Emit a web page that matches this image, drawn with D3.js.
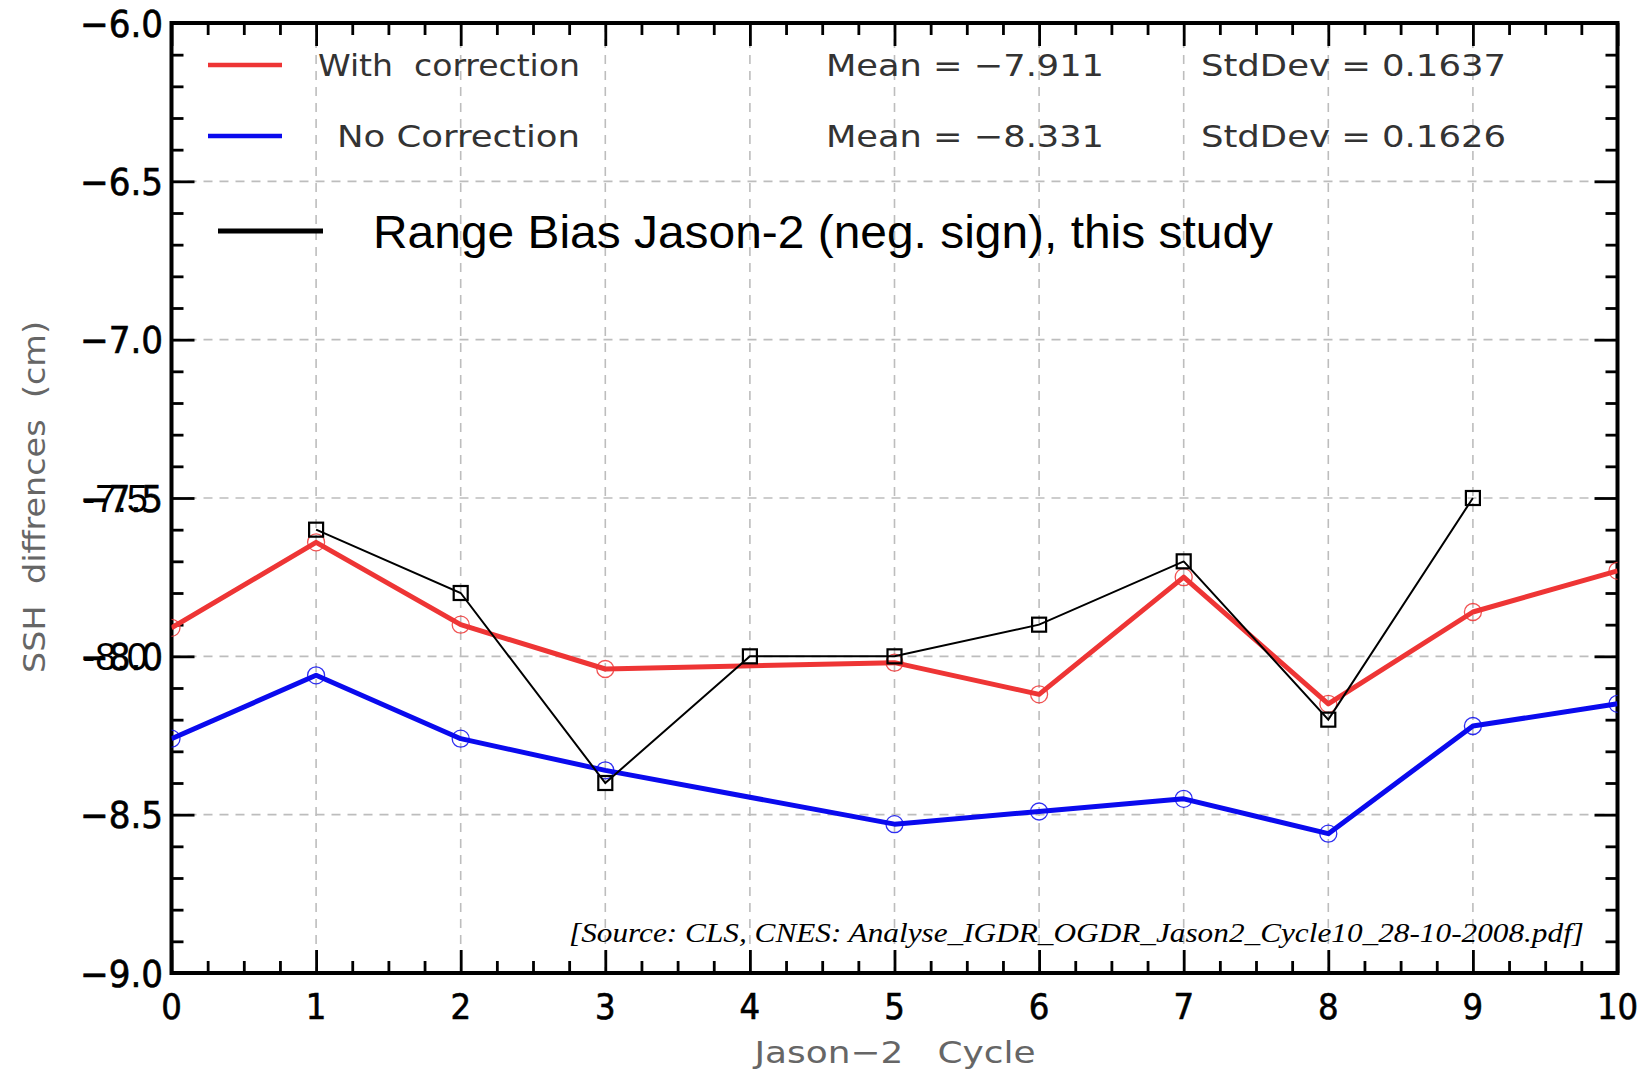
<!DOCTYPE html>
<html>
<head>
<meta charset="utf-8">
<script src="https://cdn.jsdelivr.net/npm/d3@7"></script>
<style>
  html, body { margin: 0; padding: 0; background: #fff; }
  svg { display: block; }
</style>
</head>
<body>
<svg id="chart" width="1649" height="1071"></svg>
<script>
// SSH differences per Jason-2 cycle (cm)
const cycles = [0, 1, 2, 3, 5, 6, 7, 8, 9, 10];
const withCorrection = [-7.91, -7.64, -7.90, -8.04, -8.02, -8.12, -7.75, -8.15, -7.86, -7.73];
const noCorrection = [-8.26, -8.06, -8.26, -8.36, -8.53, -8.49, -8.45, -8.56, -8.22, -8.15];

// Range bias Jason-2 (negative sign)
const biasCycles = [1, 2, 3, 4, 5, 6, 7, 8, 9];
const rangeBias = [-7.6, -7.8, -8.4, -8.0, -8.0, -7.9, -7.7, -8.2, -7.5];

// Axis ticks
const xTicks = [0, 1, 2, 3, 4, 5, 6, 7, 8, 9, 10];
const yTicks = [-9.0, -8.5, -8.0, -7.5, -7.0, -6.5, -6.0];
const yOverlayTicks = [-7.5, -8.0];

// Legend and annotation texts
const legendLabels = ["With  correction", "No Correction"];
const meanLabels = ["Mean = \u22127.911", "Mean = \u22128.331"];
const stdLabels = ["StdDev = 0.1637", "StdDev = 0.1626"];
const biasLabel = "Range Bias Jason-2 (neg. sign), this study";
const sourceLabel = "[Source: CLS, CNES: Analyse_IGDR_OGDR_Jason2_Cycle10_28-10-2008.pdf]";

const svg = d3.select("#chart");
const L = 171.5, R = 1617.5, T = 23, B = 973;
const x = d3.scaleLinear().domain([0, 10]).range([L, R]);
const y = d3.scaleLinear().domain([-9, -6]).range([B, T]);

const tickFont = "'DejaVu Sans Condensed', 'DejaVu Sans', sans-serif";
const idlFont = "'DejaVu Sans Condensed', 'DejaVu Sans', sans-serif";

svg.append("defs").append("clipPath").attr("id", "plotClip")
  .append("rect").attr("x", L).attr("y", T).attr("width", R - L).attr("height", B - T);

// Dashed grid
const grid = svg.append("g").attr("stroke", "#bdbdbd").attr("stroke-width", 1.6)
  .attr("stroke-dasharray", "9,7");
grid.selectAll("line.vx").data(xTicks.slice(1, -1)).join("line")
  .attr("x1", d => x(d)).attr("x2", d => x(d)).attr("y1", T).attr("y2", B);
grid.selectAll("line.hy").data(yTicks.slice(1, -1)).join("line")
  .attr("x1", L).attr("x2", R).attr("y1", d => y(d)).attr("y2", d => y(d));

// Inward ticks on all four sides (major + minor)
const xMinor = d3.range(0, 10.001, 0.25).filter(v => Math.abs(v - Math.round(v)) > 1e-6);
const yMinor = d3.range(-9, -5.999, 0.1).filter(v => Math.abs(v * 2 - Math.round(v * 2)) > 1e-6);

function styleAxis(g) {
  g.select(".domain").remove();
  g.selectAll(".tick line").attr("stroke", "#000").attr("stroke-width", 2.8);
}
const majorLen = 23, minorLen = 12;
[[d3.axisBottom, B], [d3.axisTop, T]].forEach(([ax, pos]) => {
  svg.append("g").attr("transform", `translate(0,${pos})`)
    .call(ax(x).tickValues(xTicks).tickSize(-majorLen).tickFormat("")).call(styleAxis);
  svg.append("g").attr("transform", `translate(0,${pos})`)
    .call(ax(x).tickValues(xMinor).tickSize(-minorLen).tickFormat("")).call(styleAxis);
});
[[d3.axisLeft, L], [d3.axisRight, R]].forEach(([ax, pos]) => {
  svg.append("g").attr("transform", `translate(${pos},0)`)
    .call(ax(y).tickValues(yTicks).tickSize(-majorLen).tickFormat("")).call(styleAxis);
  svg.append("g").attr("transform", `translate(${pos},0)`)
    .call(ax(y).tickValues(yMinor).tickSize(-minorLen).tickFormat("")).call(styleAxis);
});

// Frame
svg.append("rect").attr("x", L).attr("y", T).attr("width", R - L).attr("height", B - T)
  .attr("fill", "none").attr("stroke", "#000").attr("stroke-width", 4);

// Tick labels
const fmtY = d => (d < 0 ? "\u2212" : "") + Math.abs(d).toFixed(1);
svg.append("g").selectAll("text").data(yTicks).join("text")
  .attr("x", 163).attr("y", d => y(d)).attr("dy", "0.36em")
  .attr("text-anchor", "end").attr("font-family", tickFont)
  .attr("font-size", 38).attr("fill", "#000").attr("stroke", "#000").attr("stroke-width", 0.6)
  .text(fmtY);
// second set of labels printed over the -7.5 and -8.0 ticks
svg.append("g").selectAll("text").data(yOverlayTicks).join("text")
  .attr("x", 148).attr("y", d => y(d)).attr("dy", "0.36em")
  .attr("text-anchor", "end").attr("font-family", "'Liberation Sans', Arial, sans-serif")
  .attr("font-size", 38).attr("fill", "#000")
  .text(d => "-" + Math.abs(d).toFixed(1));
svg.append("g").selectAll("text").data(xTicks).join("text")
  .attr("x", d => x(d)).attr("y", 1006).attr("dy", "0.36em")
  .attr("text-anchor", "middle").attr("font-family", tickFont)
  .attr("font-size", 36).attr("fill", "#000").attr("stroke", "#000").attr("stroke-width", 0.6)
  .text(d => d);

// Axis titles
svg.append("text").attr("x", 895).attr("y", 1052).attr("dy", "0.36em")
  .attr("text-anchor", "middle").attr("font-family", idlFont).attr("font-size", 31)
  .attr("fill", "#666").attr("textLength", 281).attr("lengthAdjust", "spacingAndGlyphs")
  .style("white-space", "pre")
  .text("Jason\u22122   Cycle");
svg.append("text").attr("transform", "translate(34,497) rotate(-90)").attr("dy", "0.36em")
  .attr("text-anchor", "middle").attr("font-family", idlFont).attr("font-size", 31)
  .attr("fill", "#666").attr("textLength", 352).attr("lengthAdjust", "spacingAndGlyphs")
  .style("white-space", "pre")
  .text("SSH  diffrences  (cm)");

// Series lines
const line = d3.line().x(d => x(d[0])).y(d => y(d[1]));
const plot = svg.append("g").attr("clip-path", "url(#plotClip)");

const seriesDefs = [
  { xs: cycles, ys: withCorrection, color: "#ee3535" },
  { xs: cycles, ys: noCorrection, color: "#0a0aee" }
];
seriesDefs.forEach(s => {
  const pts = s.xs.map((c, i) => [c, s.ys[i]]);
  plot.append("path").datum(pts).attr("d", line).attr("fill", "none")
    .attr("stroke", s.color).attr("stroke-width", 5).attr("stroke-linejoin", "round");
  plot.append("g").selectAll("circle").data(pts).join("circle")
    .attr("cx", d => x(d[0])).attr("cy", d => y(d[1])).attr("r", 8.5)
    .attr("fill", "none").attr("stroke", s.color).attr("stroke-width", 1.3).attr("opacity", 0.85);
});

const biasPts = biasCycles.map((c, i) => [c, rangeBias[i]]);
plot.append("path").datum(biasPts).attr("d", line).attr("fill", "none")
  .attr("stroke", "#000").attr("stroke-width", 2);
plot.append("g").selectAll("rect").data(biasPts).join("rect")
  .attr("x", d => x(d[0]) - 7).attr("y", d => y(d[1]) - 7)
  .attr("width", 14).attr("height", 14)
  .attr("fill", "none").attr("stroke", "#000").attr("stroke-width", 2.2);

// Legend
const legendColors = ["#ee3535", "#0a0aee"];
const legendY = [65, 136];
const legendTextX = [318, 337];
const legendTextW = [262, 243];
legendY.forEach((ly, i) => {
  svg.append("line").attr("x1", 208).attr("x2", 282).attr("y1", ly).attr("y2", ly)
    .attr("stroke", legendColors[i]).attr("stroke-width", 4.5);
  svg.append("text").attr("x", legendTextX[i]).attr("y", ly).attr("dy", "0.36em")
    .attr("font-family", idlFont).attr("font-size", 31).attr("fill", "#333")
    .attr("textLength", legendTextW[i]).attr("lengthAdjust", "spacingAndGlyphs")
    .style("white-space", "pre")
    .text(legendLabels[i]);
  svg.append("text").attr("x", 826).attr("y", ly).attr("dy", "0.36em")
    .attr("font-family", idlFont).attr("font-size", 31).attr("fill", "#333")
    .attr("textLength", 278).attr("lengthAdjust", "spacingAndGlyphs")
    .text(meanLabels[i]);
  svg.append("text").attr("x", 1201).attr("y", ly).attr("dy", "0.36em")
    .attr("font-family", idlFont).attr("font-size", 31).attr("fill", "#333")
    .attr("textLength", 305).attr("lengthAdjust", "spacingAndGlyphs")
    .text(stdLabels[i]);
});

svg.append("line").attr("x1", 218).attr("x2", 323).attr("y1", 231).attr("y2", 231)
  .attr("stroke", "#000").attr("stroke-width", 5);
svg.append("text").attr("x", 373).attr("y", 231).attr("dy", "0.36em")
  .attr("font-family", "'Liberation Sans', Arial, sans-serif").attr("font-size", 46)
  .attr("fill", "#000").attr("textLength", 900).attr("lengthAdjust", "spacingAndGlyphs")
  .text(biasLabel);

// Source note
svg.append("text").attr("x", 569).attr("y", 942)
  .attr("font-family", "'Liberation Serif', 'Times New Roman', serif")
  .attr("font-style", "italic").attr("font-size", 28).attr("fill", "#000")
  .attr("textLength", 1015).attr("lengthAdjust", "spacingAndGlyphs")
  .text(sourceLabel);
</script>
</body>
</html>
